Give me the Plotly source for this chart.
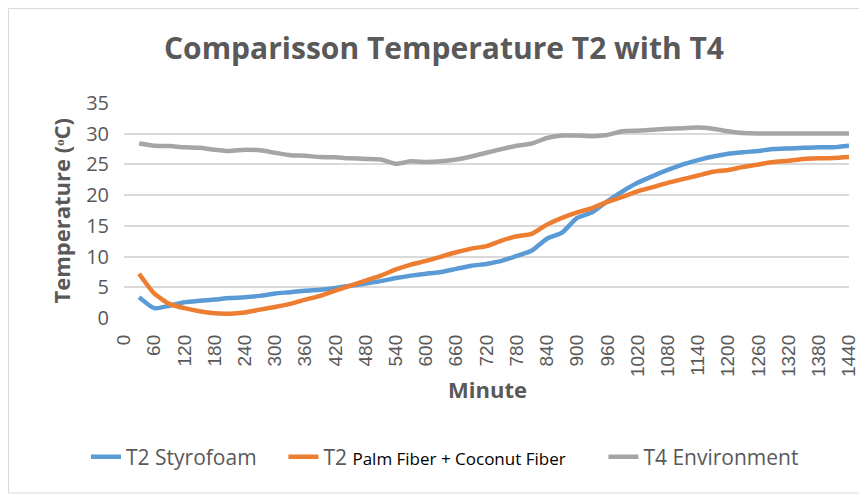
import plotly.graph_objects as go

minutes = [30, 60, 90, 120, 150, 180, 210, 240, 270, 300, 330, 360, 390, 420, 450, 480,
           510, 540, 570, 600, 630, 660, 690, 720, 750, 780, 810, 840, 870, 900, 930, 960,
           990, 1020, 1050, 1080, 1110, 1140, 1170, 1200, 1230, 1260, 1290, 1320, 1350,
           1380, 1410, 1440]

t2_styrofoam = [3.4, 1.6, 2.0, 2.55, 2.8, 3.0, 3.25, 3.36, 3.6, 4.0, 4.2, 4.45, 4.6, 4.9,
                5.26, 5.6, 6.0, 6.5, 6.9, 7.2, 7.5, 8.0, 8.5, 8.8, 9.3, 10.1, 11.0, 12.9,
                13.9, 16.3, 17.2, 19.0, 20.6, 22.0, 23.1, 24.1, 25.0, 25.7, 26.3, 26.75,
                27.0, 27.2, 27.5, 27.6, 27.7, 27.8, 27.8, 28.05]

t2_palm_coconut = [7.2, 4.0, 2.3, 1.6, 1.1, 0.76, 0.7, 0.9, 1.36, 1.8, 2.3, 3.0, 3.6, 4.45,
                   5.26, 6.1, 6.9, 7.9, 8.7, 9.3, 10.0, 10.7, 11.3, 11.7, 12.6, 13.3, 13.7,
                   15.2, 16.3, 17.2, 17.9, 18.9, 19.7, 20.6, 21.3, 22.0, 22.6, 23.2, 23.8,
                   24.1, 24.6, 25.0, 25.4, 25.6, 25.9, 26.0, 26.05, 26.2]

t4_environment = [28.4, 28.05, 28.0, 27.8, 27.7, 27.4, 27.2, 27.4, 27.3, 26.9, 26.5, 26.4,
                  26.2, 26.15, 26.0, 25.9, 25.8, 25.1, 25.5, 25.4, 25.5, 25.8, 26.3, 26.9,
                  27.5, 28.05, 28.4, 29.3, 29.7, 29.7, 29.6, 29.8, 30.4, 30.5, 30.65, 30.8,
                  30.9, 31.0, 30.8, 30.4, 30.1, 30.05, 30.05, 30.05, 30.05, 30.05, 30.05,
                  30.05]

x_ticks = list(range(0, 1441, 60))
y_ticks = list(range(0, 36, 5))

title_text = "Comparisson Temperature T2 with T4"
x_title = "Minute"
y_title = "Temperature (ᵒC)"
names = ["T2 Styrofoam" + "&nbsp;" * 4,
         "T2 <span style='font-size:17px;color:#000000'>Palm Fiber + Coconut Fiber</span>"
         + "&nbsp;" * 6,
         "T4 Environment"]
colors = ["#5B9BD5", "#ED7D31", "#A5A5A5"]

fig = go.Figure()
for name, ys, c in zip(names, [t2_styrofoam, t2_palm_coconut, t4_environment], colors):
    fig.add_trace(go.Scatter(x=minutes, y=ys, mode="lines", name=name,
                             line=dict(color=c, width=4.5, shape="spline", smoothing=0.6)))

gray = "#595959"
L, T, PW, PH = 116, 95, 725, 215
fig.update_layout(
    width=867, height=495,
    paper_bgcolor="white", plot_bgcolor="white",
    margin=dict(l=L, r=867 - L - PW, t=T, b=495 - T - PH, autoexpand=False),
    font=dict(family="Open Sans", color=gray),
    title=dict(text=f"<b>{title_text}</b>", x=436 / 867,
               xanchor="center", y=1 - 40 / 495, yanchor="middle",
               font=dict(family="Open Sans", size=30, color=gray)),
    xaxis=dict(range=[0, 1440], tickmode="array", tickvals=x_ticks,
               ticktext=[str(v) for v in x_ticks], tickangle=-90,
               tickfont=dict(family="Liberation Sans, Arial", size=19, color=gray),
               showgrid=False, zeroline=False, showline=False, ticks="",
               ticklabelstandoff=12, automargin=False),
    yaxis=dict(range=[0, 35], tickmode="array", tickvals=y_ticks,
               tickfont=dict(family="Open Sans", size=20, color=gray),
               showgrid=True, gridcolor="#D9D9D9", gridwidth=1.5,
               zeroline=False, showline=False, ticks="", ticklabelstandoff=14,
               automargin=False),
    showlegend=True,
    legend=dict(orientation="h", x=(437 - L) / PW, xanchor="center",
                y=(T + PH - 449) / PH, yanchor="middle",
                font=dict(family="Open Sans", size=21, color=gray),
                tracegroupgap=0),
    shapes=[dict(type="rect", xref="paper", yref="paper",
                 x0=(0.5 - L) / PW, x1=(875 - L) / PW,
                 y0=(T + PH - 485) / PH, y1=(T + PH - 0.5) / PH,
                 line=dict(color="#D9D9D9", width=1), fillcolor="rgba(0,0,0,0)", layer="below")],
    annotations=[
        dict(text=f"<b>{x_title}</b>", xref="paper", yref="paper", x=(480 - L) / PW,
             y=(T + PH - 381) / PH, xanchor="center", yanchor="middle", showarrow=False,
             font=dict(family="Open Sans", size=22, color=gray)),
        dict(text=f"<b>{y_title}</b>", xref="paper", yref="paper", x=(52 - L) / PW, y=0.5,
             xanchor="center", yanchor="middle", showarrow=False, textangle=-90,
             font=dict(family="Open Sans", size=22, color=gray)),
    ],
)

fig.write_html("out.html")
